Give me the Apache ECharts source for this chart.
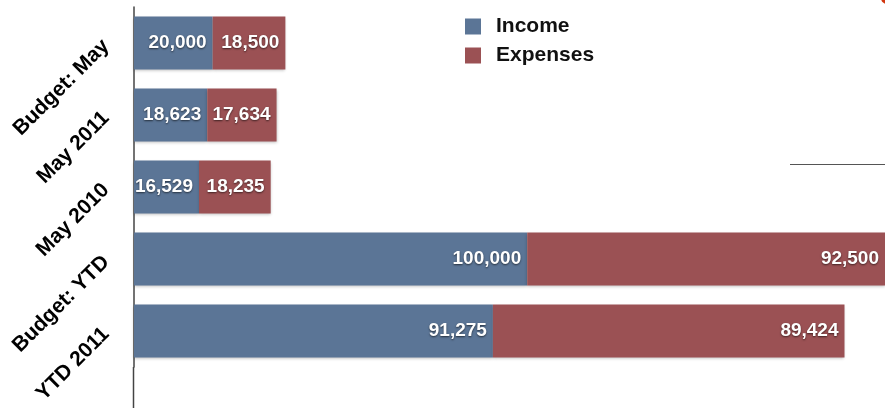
<!DOCTYPE html>
<html>
<head>
<meta charset="utf-8">
<script src="https://cdn.jsdelivr.net/npm/echarts@6/dist/echarts.min.js"></script>
<style>
html,body{margin:0;padding:0;background:#fff;}
#chart{width:885px;height:408px;}
</style>
</head>
<body>
<div id="chart"></div>
<script>
const categories = ['Budget: May', 'May 2011', 'May 2010', 'Budget: YTD', 'YTD 2011'];
const income = [20000, 18623, 16529, 100000, 91275];
const expenses = [18500, 17634, 18235, 92500, 89424];
const seriesNames = ['Income', 'Expenses'];

const FONT = '"Liberation Sans", Arial, Helvetica, sans-serif';
const fmt = v => v.toLocaleString('en-US');

const labelStyle = {
  show: true,
  position: 'insideRight',
  distance: 6,
  color: '#fff',
  fontFamily: FONT,
  fontWeight: 'bold',
  fontSize: 19,
  textShadowColor: 'rgba(0,0,0,0.6)',
  textShadowBlur: 2,
  textShadowOffsetX: 0,
  textShadowOffsetY: 1,
  formatter: p => fmt(p.value)
};

const chart = echarts.init(document.getElementById('chart'));
chart.setOption({
  animation: false,
  backgroundColor: '#fff',
  legend: {
    orient: 'vertical',
    left: 460,
    top: 11,
    itemWidth: 16,
    itemHeight: 16,
    itemGap: 8,
    icon: 'rect',
    textStyle: {
      fontFamily: FONT,
      fontWeight: 'bold',
      fontSize: 21,
      lineHeight: 16,
      color: '#111',
      padding: [0, 0, 0, 10]
    },
    data: seriesNames
  },
  grid: { left: 134, right: 0, top: 7, bottom: 41, containLabel: false },
  xAxis: {
    type: 'value',
    min: 0,
    max: 191000,
    show: false
  },
  yAxis: {
    type: 'category',
    inverse: true,
    data: categories,
    axisLine: { show: true, lineStyle: { color: '#444', width: 1.5 } },
    axisTick: { show: false },
    axisLabel: {
      rotate: 45,
      margin: 28,
      color: '#000',
      fontFamily: FONT,
      fontWeight: 'bold',
      fontSize: 21
    }
  },
  series: [
    {
      name: seriesNames[0],
      type: 'bar',
      stack: 'total',
      barWidth: 53,
      data: income,
      itemStyle: { color: '#5b7596', shadowColor: 'rgba(0,0,0,0.25)', shadowBlur: 3, shadowOffsetY: 1 },
      label: labelStyle
    },
    {
      name: seriesNames[1],
      type: 'bar',
      stack: 'total',
      barWidth: 53,
      data: expenses,
      itemStyle: { color: '#9b5154', shadowColor: 'rgba(0,0,0,0.25)', shadowBlur: 3, shadowOffsetY: 1 },
      label: labelStyle
    }
  ],
  graphic: [
    { type: 'line', shape: { x1: 133.5, y1: 367, x2: 133.5, y2: 408 }, style: { stroke: '#444', lineWidth: 1.5 } },
    { type: 'line', shape: { x1: 790, y1: 164.5, x2: 885, y2: 164.5 }, style: { stroke: '#555', lineWidth: 1 } },
    { type: 'circle', shape: { cx: 887, cy: -2, r: 6 }, style: { fill: '#d2360f' } }
  ]
});
</script>
</body>
</html>
